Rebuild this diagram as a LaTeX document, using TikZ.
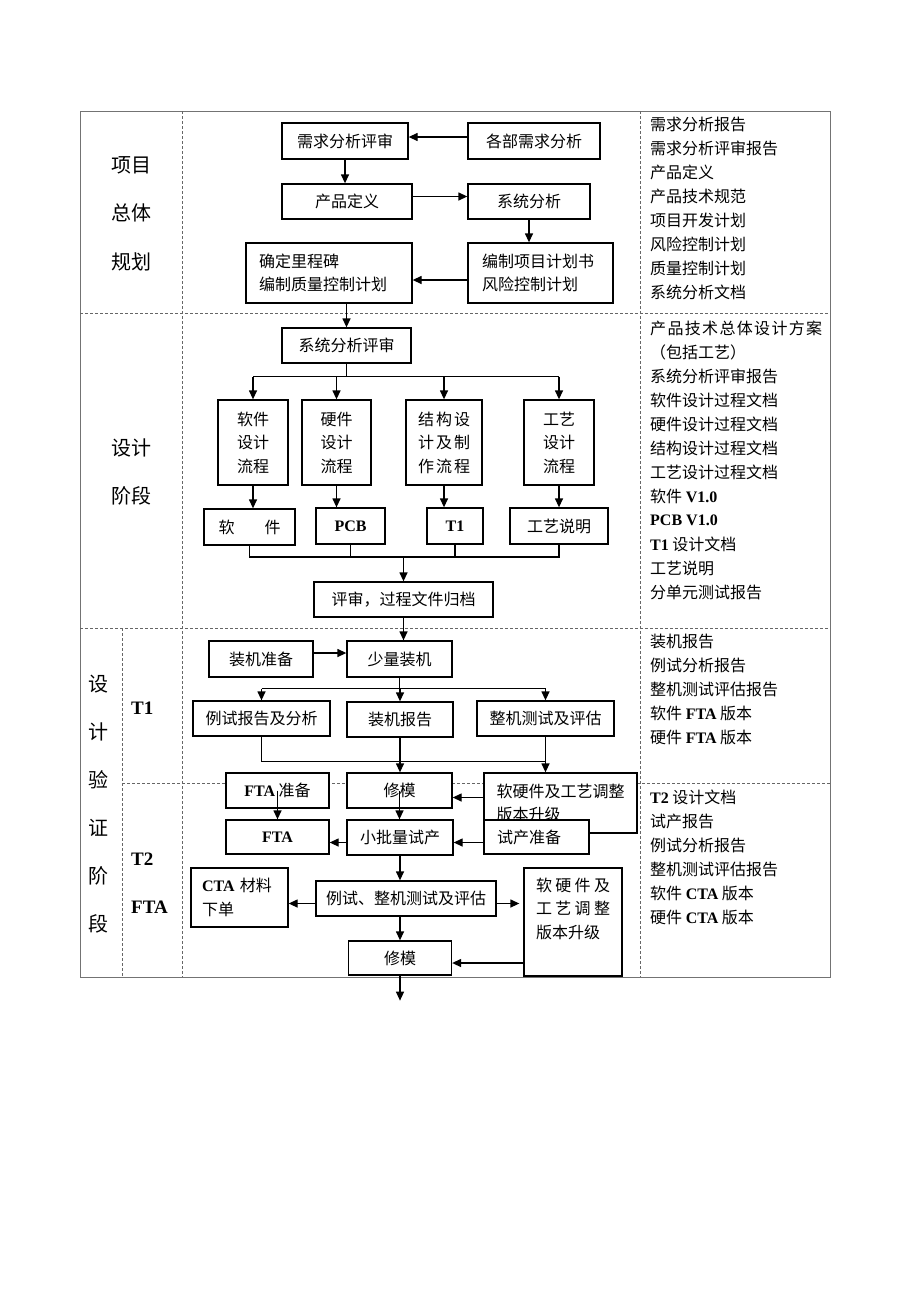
\documentclass[tikz,border=0pt]{standalone}
\usepackage{fontspec}
\setmainfont{Noto Sans CJK SC}
\newfontfamily\tms{Liberation Serif}
\usetikzlibrary{arrows.meta,positioning}
\newcommand\lb[1]{{\tms\bfseries #1}}
\newcommand\spread[2]{\makebox[#1][s]{#2}}

\begin{document}
\begin{tikzpicture}[x=1pt,y=-1pt,
    blk/.style={draw, line width=1.3pt, fill=white, inner sep=0pt, align=center,
      font=\fontsize{16}{23.5}\selectfont},
    lblk/.style={blk, align=left},
    arr/.style={line width=1.3pt, -{Triangle[length=9pt,width=8pt]}},
    ln/.style={line width=1.3pt},
    grid/.style={black!60, line width=0.8pt, dash pattern=on 3pt off 2pt},
    doc/.style={anchor=west, inner sep=0pt, font=\fontsize{16}{20}\selectfont},
    side/.style={inner sep=0pt, font=\fontsize{20}{24}\selectfont},
    tag/.style={anchor=west, inner sep=0pt, font=\fontsize{19}{24}\selectfont\tms\bfseries}]
  \useasboundingbox (0,0) rectangle (920,1302);

  % table
  \draw[black!55, line width=0.9pt] (80,111) rectangle (830,977);
  \draw[grid] (182,111) -- (182,977) (640,111) -- (640,977) (122,628) -- (122,977);
  \draw[grid] (80,313) -- (830,313) (80,628) -- (830,628) (122,783) -- (830,783);

  \node[side] (p1) at (131,165) {项目};
  \node[side] (p2) at (131,213) {总体};
  \node[side] (p3) at (131,262) {规划};
  \node[side] (s1) at (131,448) {设计};
  \node[side] (s2) at (131,496) {阶段};
  \foreach \c [count=\i] in {设,计,验,证,阶,段}
    \node[side] (v\i) at (98,636+48*\i) {\c};
  \node[tag] (t1) at (131,708) {T1};
  \node[tag] (t2) at (131,859) {T2};
  \node[tag] (fta1) at (131,907) {FTA};

  % outputs
  \foreach \t [count=\i] in {需求分析报告,需求分析评审报告,产品定义,产品技术规范,
      项目开发计划,风险控制计划,质量控制计划,系统分析文档}
    \node[doc] (da\i) at (650,100+24*\i) {\t};
  \foreach \t [count=\i] in {{\spread{172pt}{产\hfil 品\hfil 技\hfil 术\hfil 总\hfil 体\hfil 设\hfil 计\hfil 方\hfil 案}},
      （包括工艺）,系统分析评审报告,软件设计过程文档,硬件设计过程文档,
      结构设计过程文档,工艺设计过程文档,软件 \lb{V1.0},\lb{PCB V1.0},
      \lb{T1} 设计文档,工艺说明,分单元测试报告}
    \node[doc] (db\i) at (650,304+24*\i) {\t};
  \foreach \t [count=\i] in {装机报告,例试分析报告,整机测试评估报告,
      软件 \lb{FTA} 版本,硬件 \lb{FTA} 版本}
    \node[doc] (dc\i) at (650,617+24*\i) {\t};
  \foreach \t [count=\i] in {\lb{T2} 设计文档,试产报告,例试分析报告,
      整机测试评估报告,软件 \lb{CTA} 版本,硬件 \lb{CTA} 版本}
    \node[doc] (dd\i) at (650,773+24*\i) {\t};

  % planning
  \node[blk, minimum width=126pt, minimum height=36pt] (reqrev) at (345,141) {需求分析评审};
  \node[blk, minimum width=132pt, minimum height=36pt] (deptreq) at (534,141) {各部需求分析};
  \node[blk, minimum width=130pt, minimum height=35pt] (proddef) at (347,201.5) {产品定义};
  \node[blk, minimum width=122pt, minimum height=35pt] (sysana) at (529,201.5) {系统分析};
  \node[lblk, inner xsep=13pt, text width=140pt, minimum height=60pt] (milestone) at (329,273)
    {确定里程碑\\编制质量控制计划};
  \node[lblk, inner xsep=14pt, text width=117pt, minimum height=60pt] (plan) at (540.5,273)
    {编制项目计划书\\风险控制计划};

  % design
  \node[blk, minimum width=129pt, minimum height=35pt] (sysrev) at (346.5,345.5) {系统分析评审};
  \node[blk, minimum width=70pt, minimum height=85pt] (swflow) at (253,442.5) {软件\\设计\\流程};
  \node[blk, minimum width=69pt, minimum height=85pt] (hwflow) at (336.5,442.5) {硬件\\设计\\流程};
  \node[blk, minimum width=76pt, minimum height=85pt] (mechflow) at (444,442.5)
    {\spread{52pt}{结\hfil 构\hfil 设}\\\spread{52pt}{计\hfil 及\hfil 制}\\\spread{52pt}{作\hfil 流\hfil 程}};
  \node[blk, minimum width=70pt, minimum height=85pt] (procflow) at (559,442.5) {工艺\\设计\\流程};
  \node[blk, minimum width=91pt, minimum height=36pt] (sw) at (249.5,527) {软\hspace{30pt}件};
  \node[blk, minimum width=69pt, minimum height=36pt] (pcb) at (350.5,526) {\lb{PCB}};
  \node[blk, minimum width=56pt, minimum height=36pt] (tone) at (455,526) {\lb{T1}};
  \node[blk, minimum width=98pt, minimum height=36pt] (procnote) at (559,526) {工艺说明};
  \node[blk, minimum width=179pt, minimum height=35pt] (archive) at (403.5,599.5) {评审，过程文件归档};

  % T1
  \node[blk, minimum width=104pt, minimum height=36pt] (asmprep) at (261,659) {装机准备};
  \node[blk, minimum width=105pt, minimum height=36pt] (asm) at (399.5,659) {少量装机};
  \node[blk, minimum width=137pt, minimum height=35pt] (casereport) at (261.5,718.5) {例试报告及分析};
  \node[blk, minimum width=106pt, minimum height=35pt] (asmreport) at (400,719.5) {装机报告};
  \node[blk, minimum width=137pt, minimum height=35pt] (systest) at (545.5,718.5) {整机测试及评估};

  % T2 / FTA
  \node[blk, minimum width=103pt, minimum height=35pt] (ftaprep) at (277.5,790.5) {\lb{FTA} 准备};
  \node[blk, minimum width=105pt, minimum height=35pt] (mold) at (399.5,790.5) {修模};
  \node[blk, align=left, minimum width=153pt, minimum height=60pt] (upgrade) at (560.5,803)
    {软硬件及工艺调整\\版本升级};
  \node[lblk, inner xsep=13pt, text width=79pt, minimum height=34pt] (trialprep) at (536.5,837) {试产准备};
  \node[blk, minimum width=103pt, minimum height=34pt] (fta) at (277.5,837) {\lb{FTA}};
  \node[blk, minimum width=106pt, minimum height=35pt] (pilot) at (400,837.5) {小批量试产};
  \node[lblk, inner xsep=11pt, text width=75pt, minimum height=59pt] (ctaorder) at (239.5,897.5)
    {\lb{CTA} 材料\\下单};
  \node[blk, minimum width=180pt, minimum height=35pt] (fulltest) at (406,898.5) {例试、整机测试及评估};
  \node[blk, minimum width=98pt, minimum height=108pt] (upgrade2) at (573,922)
    {\parbox[c][88pt][t]{74pt}{\spread{74pt}{软\hfil 硬\hfil 件\hfil 及}\\
      \spread{74pt}{工\hfil 艺\hfil 调\hfil 整}\\版本升级}};
  \node[blk, minimum width=103pt, minimum height=34pt] (mold2) at (400,958) {修模};

  % connectors
  \draw[arr] ([yshift=4pt]deptreq.west) -- ([yshift=4pt]reqrev.east);
  \draw[arr] (reqrev.south) -- (reqrev.south |- proddef.north);
  \draw[arr] ([yshift=5pt]proddef.east) -- ([yshift=5pt]sysana.west);
  \draw[arr] (sysana.south) -- (sysana.south |- plan.north);
  \draw[arr] ([yshift=-7pt]plan.west) -- ([yshift=-7pt]milestone.east);
  \draw[arr] (sysrev.north |- milestone.south) -- (sysrev.north);

  \draw[ln] (sysrev.south) -- ++(0,13) coordinate (b1);
  \draw[ln] (swflow.north |- b1) -- (procflow.north |- b1);
  \foreach \n in {swflow,hwflow,mechflow,procflow}
    \draw[arr] (\n.north |- b1) -- (\n.north);
  \draw[arr] (swflow.south) -- (swflow.south |- sw.north);
  \draw[arr] (hwflow.south) -- (hwflow.south |- pcb.north);
  \draw[arr] (mechflow.south) -- (mechflow.south |- tone.north);
  \draw[arr] (procflow.south) -- (procflow.south |- procnote.north);
  \coordinate (b2) at (0,557);
  \draw[ln] (sw.south) -- (sw.south |- b2) -- (procnote.south |- b2) -- (procnote.south);
  \draw[ln] (pcb.south) -- (pcb.south |- b2);
  \draw[ln] (tone.south) -- (tone.south |- b2);
  \draw[arr] (archive.north |- b2) -- (archive.north);
  \draw[arr] (archive.south) -- (archive.south |- asm.north);

  \draw[arr] ([yshift=6pt]asmprep.east) -- ([yshift=6pt]asm.west);
  \draw[ln] (asm.south) -- ++(0,11) coordinate (b3);
  \draw[ln] (casereport.north |- b3) -- (systest.north |- b3);
  \foreach \n in {casereport,asmreport,systest}
    \draw[arr] (\n.north |- b3) -- (\n.north);
  \draw[ln] (casereport.south) -- ++(0,25) coordinate (b4) -- (b4 -| systest.south);
  \draw[arr] (systest.south) -- (systest.south |- upgrade.north);
  \draw[arr] (asmreport.south) -- (asmreport.south |- mold.north);

  \coordinate (j1) at ([yshift=-7pt]mold.east);
  \draw[arr] (j1 -| upgrade.west) -- (j1);
  \draw[arr] (ftaprep.center) -- (ftaprep.center |- fta.north);
  \draw[arr] (mold.center) -- (mold.center |- pilot.north);
  \coordinate (j2) at ([yshift=-5pt]pilot.west);
  \draw[arr] (j2) -- (j2 -| fta.east);
  \coordinate (j3) at ([yshift=-5pt]pilot.east);
  \draw[arr] (j3 -| trialprep.west) -- (j3);
  \draw[arr] (pilot.south) -- (pilot.south |- fulltest.north);
  \coordinate (j4) at ([yshift=-5pt]fulltest.west);
  \draw[arr] (j4) -- (j4 -| ctaorder.east);
  \coordinate (j5) at ([yshift=-5pt]fulltest.east);
  \draw[arr, shorten >=4pt] (j5) -- (j5 -| upgrade2.west);
  \draw[arr] (fulltest.south -| mold2.north) -- (mold2.north);
  \coordinate (j6) at ([yshift=-5pt]mold2.east);
  \draw[arr] (j6 -| upgrade2.west) -- (j6);
  \draw[arr] (mold2.south) -- ++(0,25);
\end{tikzpicture}
\end{document}
